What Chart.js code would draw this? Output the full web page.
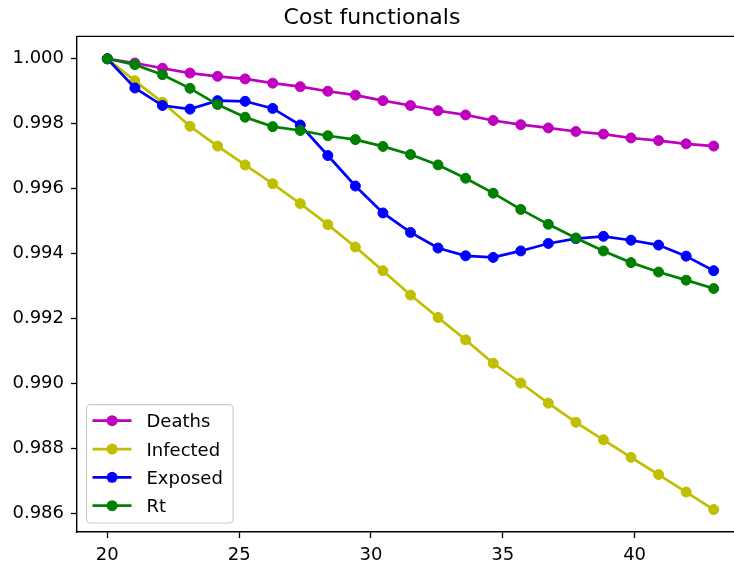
<!DOCTYPE html>
<html>
<head>
<meta charset="utf-8">
<script src="https://cdn.jsdelivr.net/npm/chart.js@4/dist/chart.umd.min.js"></script>
<style>
  html, body { margin: 0; padding: 0; background: #fff; overflow: hidden; width: 734px; height: 565px; }
  #wrap { width: 734px; height: 565px; overflow: hidden; position: relative; }
  canvas { display: block; position: absolute; left: 0; top: 0; }
</style>
</head>
<body>
<div id="wrap"><canvas id="c" width="820" height="565"></canvas></div>
<script>
// Iteration index (x) and normalised cost functional values per target
const iterations = [20, 21.045, 22.091, 23.136, 24.182, 25.227, 26.273, 27.318, 28.364, 29.409,
                    30.455, 31.5, 32.545, 33.591, 34.636, 35.682, 36.727, 37.773, 38.818, 39.864,
                    40.909, 41.955, 43];
const deaths   = [1.0000, 0.99987, 0.99971, 0.99956, 0.99946, 0.99938, 0.99925, 0.99914, 0.99900, 0.99888,
                  0.99871, 0.99856, 0.99840, 0.99827, 0.99810, 0.99797, 0.99787, 0.99776, 0.99768, 0.99756,
                  0.99748, 0.99738, 0.99731];
const infected = [1.0000, 0.99932, 0.99866, 0.99792, 0.99731, 0.99673, 0.99615, 0.99554, 0.99489, 0.99420,
                  0.99347, 0.99272, 0.99203, 0.99134, 0.99062, 0.99001, 0.98939, 0.98880, 0.98826, 0.98772,
                  0.98719, 0.98665, 0.98611];
const exposed  = [1.0000, 0.99910, 0.99856, 0.99845, 0.99871, 0.99869, 0.99847, 0.99796, 0.99702, 0.99608,
                  0.99525, 0.99465, 0.99417, 0.99393, 0.99388, 0.99408, 0.99431, 0.99446, 0.99453, 0.99441,
                  0.99426, 0.99392, 0.99347];
const rt       = [1.0000, 0.99982, 0.99951, 0.99909, 0.99859, 0.99820, 0.99791, 0.99779, 0.99763, 0.99751,
                  0.99730, 0.99705, 0.99673, 0.99632, 0.99586, 0.99536, 0.99490, 0.99448, 0.99408, 0.99372,
                  0.99343, 0.99318, 0.99292];

const seriesLabels = ['Deaths', 'Infected', 'Exposed', 'Rt'];
const seriesColors = ['#bf00bf', '#bfbf00', '#0000ff', '#008000'];
const xTicks = [20, 25, 30, 35, 40];
const yTicks = [0.986, 0.988, 0.990, 0.992, 0.994, 0.996, 0.998, 1.000];

const FONT = 'DejaVu Sans';

function series(label, values, color, order) {
  return {
    label,
    data: iterations.map((x, i) => ({ x, y: values[i] })),
    borderColor: color,
    backgroundColor: color,
    borderWidth: 2.7,
    pointRadius: 5,
    pointBorderWidth: 1,
    pointBackgroundColor: color,
    pointBorderColor: color,
    tension: 0,
    order
  };
}

// Top edge of the plotting area (left and bottom come from the axis borders)
const frame = {
  id: 'frame',
  afterDatasetsDraw(chart) {
    const { ctx, chartArea: a } = chart;
    ctx.save();
    ctx.strokeStyle = '#000';
    ctx.lineWidth = 1.4;
    ctx.beginPath();
    ctx.moveTo(a.left, a.top);
    ctx.lineTo(a.right, a.top);
    ctx.stroke();
    ctx.restore();
  }
};

// Legend in the lower-left corner: line handle with a marker, then the label
const cornerLegend = {
  id: 'cornerLegend',
  afterDraw(chart) {
    const { ctx, chartArea: a } = chart;
    const sets = chart.data.datasets;
    const pad = 9, rowH = 28.33, w = 146.6;
    const h = 118.3;
    const x0 = a.left + pad + 0.5, y0 = a.bottom - pad - h;
    ctx.save();
    ctx.beginPath();
    ctx.roundRect(x0, y0, w, h, 4);
    ctx.fillStyle = 'rgba(255,255,255,0.8)';
    ctx.fill();
    ctx.strokeStyle = '#cccccc';
    ctx.lineWidth = 1.2;
    ctx.stroke();
    ctx.font = '18px "' + FONT + '"';
    ctx.textBaseline = 'alphabetic';
    ctx.textAlign = 'left';
    sets.forEach((ds, i) => {
      const cy = y0 + 16 + i * rowH;
      ctx.strokeStyle = ds.borderColor;
      ctx.lineWidth = ds.borderWidth;
      ctx.beginPath();
      ctx.moveTo(x0 + 6, cy);
      ctx.lineTo(x0 + 45, cy);
      ctx.stroke();
      ctx.beginPath();
      ctx.arc(x0 + 25.6, cy, ds.pointRadius + 0.5, 0, Math.PI * 2);
      ctx.fillStyle = ds.pointBackgroundColor;
      ctx.fill();
      ctx.fillStyle = '#000';
      ctx.fillText(ds.label, x0 + 60, cy + 6.6);
    });
    ctx.restore();
  }
};

const axisCommon = {
  type: 'linear',
  grid: { display: true, drawOnChartArea: false, drawTicks: true, tickLength: 6, tickColor: '#000', tickWidth: 1.3 },
  border: { display: true, color: '#000', width: 1.4 },
};

new Chart(document.getElementById('c'), {
  type: 'line',
  data: {
    datasets: [
      series(seriesLabels[0], deaths,   seriesColors[0], 3),
      series(seriesLabels[1], infected, seriesColors[1], 2),
      series(seriesLabels[2], exposed,  seriesColors[2], 1),
      series(seriesLabels[3], rt,       seriesColors[3], 0)
    ]
  },
  options: {
    responsive: false,
    devicePixelRatio: 1,
    animation: false,
    layout: { padding: { left: 0, right: 76, top: 0, bottom: 0 } },
    plugins: {
      legend: { display: false },
      tooltip: { enabled: false },
      title: {
        display: true,
        text: 'Cost functionals',
        color: '#000',
        font: { family: FONT, size: 22, weight: 'normal' },
        padding: { top: 5, bottom: 5 }
      }
    },
    scales: {
      x: {
        ...axisCommon,
        min: 18.85,
        max: 44.15,
        afterBuildTicks(scale) { scale.ticks = xTicks.map(v => ({ value: v })); },
        afterFit(scale) { scale.height = 33; },
        ticks: { color: '#000', padding: 7, font: { family: FONT, size: 18 }, callback: v => String(v) }
      },
      y: {
        ...axisCommon,
        min: 0.98542,
        max: 1.00069,
        afterBuildTicks(scale) { scale.ticks = yTicks.map(v => ({ value: v })); },
        afterFit(scale) { scale.width = 77; },
        ticks: { color: '#000', padding: 7, font: { family: FONT, size: 18 }, callback: v => v.toFixed(3) }
      }
    }
  },
  plugins: [frame, cornerLegend]
});
</script>
</body>
</html>
